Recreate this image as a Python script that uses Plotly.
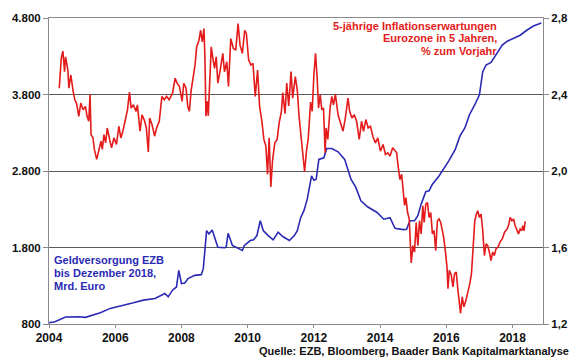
import plotly.graph_objects as go

# Geldversorgung EZB (Mrd. Euro), left axis
blue_years = [2004.00, 2004.18, 2004.50, 2004.90, 2005.10, 2005.40, 2005.55, 2005.85, 2006.25, 2006.55,
              2006.85, 2007.20, 2007.50, 2007.60, 2007.73, 2007.85, 2007.92, 2008.00, 2008.10, 2008.20,
              2008.40, 2008.60, 2008.66, 2008.76, 2008.83, 2008.93, 2009.10, 2009.30, 2009.35, 2009.41,
              2009.54, 2009.69, 2009.84, 2009.90, 2010.08, 2010.18, 2010.28, 2010.38, 2010.47, 2010.62,
              2010.77, 2010.92, 2011.06, 2011.26, 2011.41, 2011.50, 2011.60, 2011.70, 2011.80, 2011.93,
              2012.00, 2012.07, 2012.15, 2012.30, 2012.39, 2012.54, 2012.73, 2012.93, 2013.03, 2013.12,
              2013.27, 2013.42, 2013.62, 2013.91, 2014.11, 2014.30, 2014.45, 2014.70, 2014.80, 2014.90,
              2015.04, 2015.14, 2015.24, 2015.38, 2015.48, 2015.58, 2015.78, 2015.92, 2016.07, 2016.27,
              2016.41, 2016.56, 2016.70, 2016.86, 2017.00, 2017.10, 2017.20, 2017.35, 2017.54, 2017.69,
              2017.84, 2018.04, 2018.23, 2018.43, 2018.63, 2018.87]
blue_values = [817, 830, 891, 895, 887, 930, 947, 1004, 1043, 1077,
               1112, 1134, 1199, 1155, 1242, 1284, 1501, 1329, 1336, 1394,
               1436, 1445, 1523, 2021, 1978, 2030, 1804, 1796, 1804, 1986,
               1826, 1796, 1761, 1826, 1891, 1900, 1956, 2151, 2021, 1956,
               1900, 1999, 1943, 1891, 1956, 2021, 2190, 2281, 2432, 2735,
               2679, 2692, 2952, 2973, 3095, 3095, 3051, 2952, 2800, 2692,
               2583, 2410, 2332, 2258, 2170, 2190, 2050, 2034, 2038, 2150,
               2150, 2216, 2367, 2530, 2540, 2627, 2735, 2822, 2930, 3082,
               3255, 3362, 3536, 3666, 3796, 4099, 4186, 4219, 4336, 4445,
               4497, 4540, 4575, 4640, 4696, 4735]

# 5-jaehrige Inflationserwartungen (%), right axis
red_years = [2004.31, 2004.37, 2004.42, 2004.47, 2004.50, 2004.57, 2004.60, 2004.66, 2004.73, 2004.78,
             2004.83, 2004.90, 2004.96, 2005.03, 2005.10, 2005.15, 2005.20, 2005.24, 2005.27, 2005.33,
             2005.37, 2005.44, 2005.50, 2005.57, 2005.61, 2005.66, 2005.71, 2005.76, 2005.83, 2005.89,
             2005.96, 2006.04, 2006.11, 2006.17, 2006.23, 2006.30, 2006.37, 2006.43, 2006.48, 2006.55,
             2006.63, 2006.67, 2006.75, 2006.81, 2006.89, 2006.94, 2007.00, 2007.04, 2007.11, 2007.19,
             2007.25, 2007.33, 2007.41, 2007.48, 2007.55, 2007.63, 2007.73, 2007.81, 2007.87, 2007.94,
             2008.02, 2008.07, 2008.14, 2008.19, 2008.24, 2008.29, 2008.37, 2008.41, 2008.46, 2008.53,
             2008.58, 2008.63, 2008.68, 2008.71, 2008.74, 2008.78, 2008.81, 2008.85, 2008.90, 2008.95,
             2009.00, 2009.05, 2009.10, 2009.17, 2009.25, 2009.30, 2009.37, 2009.42, 2009.49, 2009.57,
             2009.64, 2009.71, 2009.77, 2009.84, 2009.91, 2009.96, 2010.03, 2010.10, 2010.16, 2010.23,
             2010.30, 2010.36, 2010.43, 2010.49, 2010.55, 2010.60, 2010.65, 2010.70, 2010.75, 2010.82,
             2010.89, 2010.95, 2011.02, 2011.06, 2011.13, 2011.18, 2011.24, 2011.31, 2011.36, 2011.44,
             2011.50, 2011.55, 2011.62, 2011.68, 2011.72, 2011.78, 2011.83, 2011.90, 2011.95, 2012.00,
             2012.05, 2012.10, 2012.14, 2012.19, 2012.24, 2012.29, 2012.34, 2012.37, 2012.42, 2012.49,
             2012.54, 2012.59, 2012.65, 2012.73, 2012.81, 2012.88, 2012.95, 2013.03, 2013.08, 2013.15,
             2013.22, 2013.29, 2013.37, 2013.44, 2013.50, 2013.57, 2013.64, 2013.71, 2013.78, 2013.86,
             2013.93, 2014.01, 2014.09, 2014.16, 2014.23, 2014.30, 2014.38, 2014.45, 2014.50, 2014.55,
             2014.60, 2014.65, 2014.70, 2014.74, 2014.78, 2014.83, 2014.88, 2014.92, 2014.94, 2014.99,
             2015.04, 2015.09, 2015.14, 2015.19, 2015.24, 2015.29, 2015.33, 2015.38, 2015.43, 2015.48,
             2015.53, 2015.58, 2015.63, 2015.68, 2015.73, 2015.78, 2015.83, 2015.88, 2015.92, 2015.97,
             2016.02, 2016.05, 2016.09, 2016.15, 2016.20, 2016.25, 2016.30, 2016.35, 2016.39, 2016.43,
             2016.48, 2016.53, 2016.58, 2016.64, 2016.71, 2016.76, 2016.79, 2016.83, 2016.86, 2016.91,
             2016.95, 2017.00, 2017.05, 2017.10, 2017.15, 2017.20, 2017.25, 2017.30, 2017.35, 2017.40,
             2017.45, 2017.50, 2017.56, 2017.62, 2017.69, 2017.76, 2017.84, 2017.89, 2017.93, 2017.98,
             2018.03, 2018.08, 2018.13, 2018.18, 2018.23, 2018.28, 2018.31, 2018.35, 2018.38]
red_values = [2.433, 2.589, 2.627, 2.519, 2.597, 2.528, 2.433, 2.502, 2.416, 2.372,
              2.355, 2.286, 2.355, 2.320, 2.338, 2.286, 2.260, 2.400, 2.190, 2.173,
              2.113, 2.061, 2.104, 2.156, 2.113, 2.190, 2.147, 2.225, 2.165, 2.121,
              2.173, 2.139, 2.234, 2.173, 2.208, 2.260, 2.320, 2.412, 2.329, 2.346,
              2.312, 2.346, 2.208, 2.294, 2.260, 2.225, 2.100, 2.277, 2.243, 2.182,
              2.225, 2.260, 2.390, 2.372, 2.390, 2.372, 2.407, 2.485, 2.459, 2.442,
              2.364, 2.459, 2.433, 2.338, 2.312, 2.416, 2.519, 2.554, 2.649, 2.684,
              2.736, 2.675, 2.745, 2.589, 2.286, 2.364, 2.289, 2.468, 2.649, 2.589,
              2.537, 2.597, 2.459, 2.528, 2.615, 2.519, 2.571, 2.442, 2.692, 2.641,
              2.632, 2.771, 2.658, 2.615, 2.736, 2.719, 2.580, 2.554, 2.563, 2.390,
              2.528, 2.338, 2.260, 2.165, 2.130, 1.983, 2.173, 1.917, 2.052, 2.147,
              2.165, 2.250, 2.312, 2.410, 2.300, 2.460, 2.340, 2.520, 2.381, 2.494,
              2.420, 2.290, 2.160, 2.060, 1.996, 2.110, 2.170, 2.360, 2.312, 2.502,
              2.615, 2.485, 2.329, 2.398, 2.320, 2.329, 2.095, 2.225, 2.165, 2.329,
              2.390, 2.346, 2.401, 2.294, 2.243, 2.208, 2.277, 2.381, 2.312, 2.277,
              2.294, 2.260, 2.165, 2.260, 2.208, 2.269, 2.225, 2.234, 2.182, 2.147,
              2.173, 2.104, 2.139, 2.087, 2.095, 2.078, 2.121, 2.104, 2.095, 2.017,
              1.955, 1.983, 1.896, 1.820, 1.861, 1.783, 1.749, 1.602, 1.519, 1.610,
              1.576, 1.731, 1.610, 1.740, 1.671, 1.818, 1.731, 1.827, 1.835, 1.757,
              1.783, 1.671, 1.688, 1.584, 1.740, 1.749, 1.731, 1.688, 1.653, 1.584,
              1.498, 1.385, 1.481, 1.455, 1.394, 1.463, 1.472, 1.377, 1.316, 1.256,
              1.342, 1.290, 1.316, 1.359, 1.411, 1.463, 1.550, 1.653, 1.740, 1.775,
              1.792, 1.757, 1.775, 1.688, 1.558, 1.619, 1.610, 1.576, 1.532, 1.576,
              1.558, 1.593, 1.602, 1.628, 1.645, 1.680, 1.697, 1.723, 1.757, 1.740,
              1.749, 1.714, 1.688, 1.671, 1.697, 1.688, 1.714, 1.688, 1.737]

x_ticks = [2004, 2006, 2008, 2010, 2012, 2014, 2016, 2018]
left_ticks = [800, 1800, 2800, 3800, 4800]
right_ticks = [1.2, 1.6, 2.0, 2.4, 2.8]

red_title = ["5-jährige Inflationserwartungen", "Eurozone in 5 Jahren,", "% zum Vorjahr"]
blue_title = ["Geldversorgung EZB", "bis Dezember 2018,", "Mrd. Euro"]
source_text = "Quelle: EZB, Bloomberg, Baader Bank Kapitalmarktanalyse"

FONT = "Liberation Sans, Arial, sans-serif"
RED = "#e31b1b"
BLUE = "#2a2ab4"
GRID = "#5a5a5a"
AXIS = "#8a8a8a"

fig = go.Figure()
fig.add_trace(go.Scatter(x=blue_years, y=blue_values, mode="lines",
                         line=dict(color=BLUE, width=1.6), yaxis="y", showlegend=False))
fig.add_trace(go.Scatter(x=red_years, y=red_values, mode="lines",
                         line=dict(color=RED, width=1.6), yaxis="y2", showlegend=False))

tickfont = dict(family=FONT, size=12, color="#111111", weight="bold")

fig.update_layout(
    width=580, height=358,
    margin=dict(l=44, r=30, t=16, b=34, pad=0),
    paper_bgcolor="white", plot_bgcolor="white",
    separators=",.",
    xaxis=dict(range=[2004, 2018.92], tickvals=x_ticks, ticktext=[str(t) for t in x_ticks],
               showgrid=False, zeroline=False, showline=True, linecolor=AXIS, linewidth=1,
               mirror=True, ticks="outside", ticklen=3, tickcolor=AXIS, tickfont=tickfont),
    yaxis=dict(range=[800, 4800], tickvals=left_ticks, tickformat=",d",
               showgrid=True, gridcolor=GRID, gridwidth=1, zeroline=False,
               showline=True, linecolor=AXIS, linewidth=1,
               ticks="outside", ticklen=5, tickcolor=AXIS, tickfont=dict(tickfont, size=11.5)),
    yaxis2=dict(range=[1.2, 2.8], tickvals=right_ticks, tickformat=".1f", overlaying="y", side="right",
                showgrid=False, zeroline=False, showline=True, linecolor=AXIS, linewidth=1,
                ticks="outside", ticklen=5, tickcolor=AXIS, tickfont=dict(tickfont, size=11.5)),
)

# plot area: x 44..550, y 16..324
def px_x(p):
    return (p - 44) / 506.0

def px_y(p):
    return (324 - p) / 308.0

for txt, yy in zip(red_title, [24, 36.5, 49]):
    fig.add_annotation(text=txt, xref="paper", yref="paper", x=px_x(505), y=px_y(yy),
                       xanchor="right", yanchor="middle", showarrow=False,
                       font=dict(family=FONT, size=11, color=RED, weight="bold"))
for txt, yy in zip(blue_title, [260, 273, 285.5]):
    fig.add_annotation(text=txt, xref="paper", yref="paper", x=px_x(47), y=px_y(yy),
                       xanchor="left", yanchor="middle", showarrow=False,
                       font=dict(family=FONT, size=11, color=BLUE, weight="bold"))
fig.add_annotation(text=source_text, xref="paper", yref="paper", x=px_x(579), y=px_y(351.5),
                   xanchor="right", yanchor="middle", showarrow=False,
                   font=dict(family=FONT, size=11, color="#111111", weight="bold"))

fig.write_html("out.html", config={"displayModeBar": False},
               post_script="document.body.style.margin='0';")
